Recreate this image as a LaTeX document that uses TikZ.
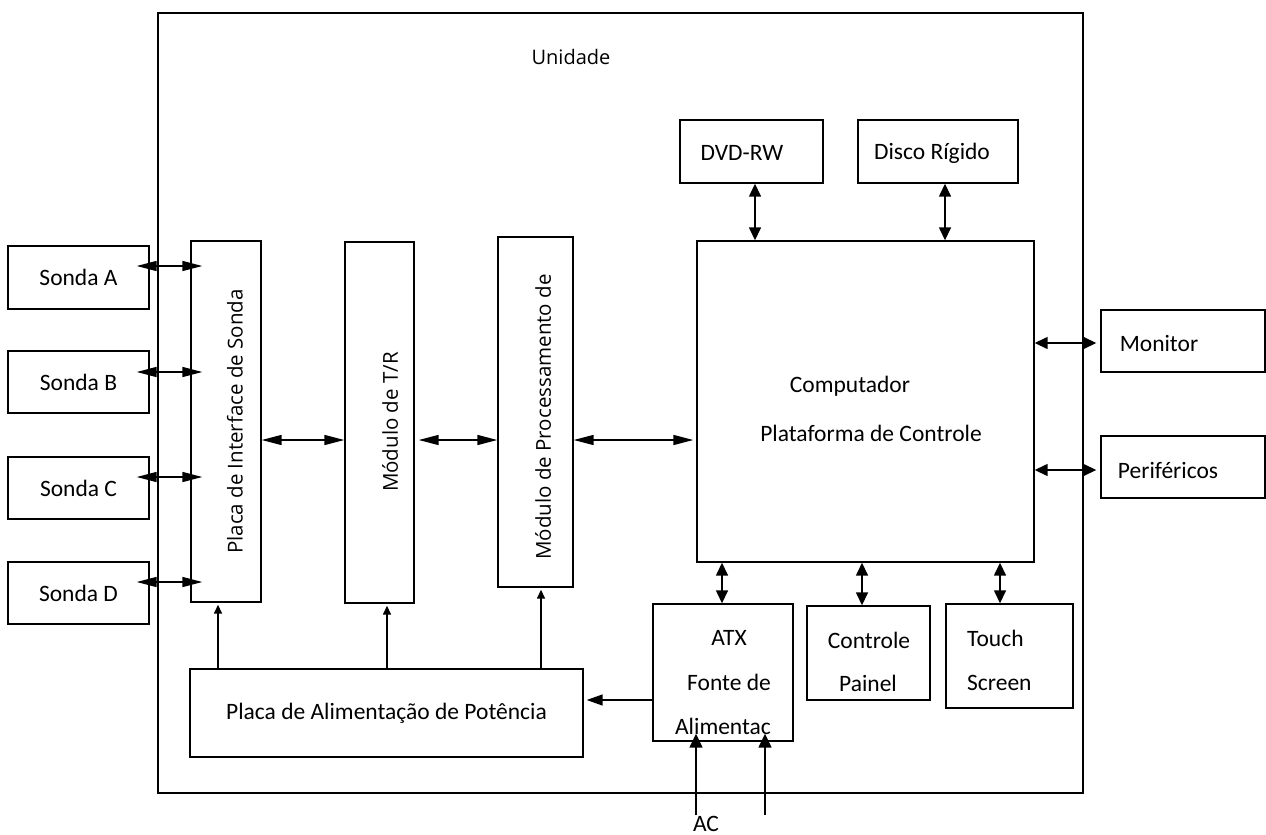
\documentclass[tikz,border=0pt]{standalone}
\usepackage{fontspec}
\setmainfont{Carlito}
\newfontfamily\osans{Open Sans}
\usetikzlibrary{arrows.meta}
\begin{document}
\begin{tikzpicture}[x=1pt,y=-1pt,
  box/.style={draw,line width=1.4pt,inner sep=0pt},
  txt/.style={inner sep=0pt,font=\fontsize{23.5}{28}\selectfont},
  rtxt/.style={inner sep=0pt,rotate=90,font=\osans\fontsize{20.5}{24}\selectfont},
  big/.style={line width=1.5pt,{Triangle[length=20pt,width=10pt]}-{Triangle[length=20pt,width=10pt]}},
  dbl/.style={line width=1.5pt,{Triangle[length=13pt,width=12pt]}-{Triangle[length=13pt,width=12pt]}},
  med/.style={line width=1.5pt,-{Triangle[length=14pt,width=13pt]}},
  lft/.style={line width=1.5pt,-{Triangle[length=16pt,width=11pt]}},
  sml/.style={line width=1.5pt,-{Triangle[length=9pt,width=8pt]}},
  font=\fontsize{23.5}{28}\selectfont]
\useasboundingbox (0,0) rectangle (1266,835);
% outer unit
\node[box,minimum width=925pt,minimum height=780pt] (unit) at (620.5,403) {};
\node[inner sep=0pt,font=\osans\fontsize{20}{24}\selectfont] (unitl) at (571,57) {Unidade};
% probes
\node[box,minimum width=141pt,minimum height=63pt] (sa) at (78.5,277.5) {Sonda A};
\node[box,minimum width=141pt,minimum height=62pt] (sb) at (78.5,382) {Sonda B};
\node[box,minimum width=141pt,minimum height=62pt] (sc) at (78.5,488) {Sonda C};
\node[box,minimum width=141pt,minimum height=62pt] (sd) at (78.5,593) {Sonda D};
% vertical modules
\node[box,minimum width=70pt,minimum height=361pt] (pis) at (226,421.5) {};
\node[rtxt] (pisl) at (235,421.5) {Placa de Interface de Sonda};
\node[box,minimum width=69pt,minimum height=361pt] (tr) at (379.5,422.5) {};
\node[rtxt] (trl) at (390,422) {Módulo de T/R};
\node[box,minimum width=75pt,minimum height=350pt] (proc) at (535.5,412) {};
\node[rtxt] (procl) at (543,417) {Módulo de Processamento de};
% computer
\node[box,minimum width=337pt,minimum height=321pt] (comp) at (865.5,401.5) {};
\node[txt] (compl1) at (850,386) {Computador};
\node[txt] (compl2) at (871,433) {Plataforma de Controle};
\node[box,minimum width=143pt,minimum height=63pt] (dvd) at (751.5,151.5) {};
\node[txt] (dvdl) at (742,153) {DVD-RW};
\node[box,minimum width=160pt,minimum height=63pt] (disco) at (938,151.5) {};
\node[txt] (discol) at (932,153) {Disco Rígido};
\node[box,minimum width=164pt,minimum height=62pt] (mon) at (1183,341) {};
\node[txt] (monl) at (1159,343) {Monitor};
\node[box,minimum width=164pt,minimum height=62pt] (per) at (1183,467) {};
\node[txt] (perl) at (1168,470) {Periféricos};
% bottom boxes
\node[box,minimum width=140pt,minimum height=137pt] (atx) at (723,672.5) {};
\node[txt] (atxl1) at (729,638) {ATX};
\node[txt] (atxl2) at (729,682) {Fonte de};
\node[txt] (atxl3) at (723,726) {Alimentac};
\node[box,minimum width=123pt,minimum height=94pt] (ctl) at (868.5,653) {};
\node[txt] (ctll1) at (869,640) {Controle};
\node[txt] (ctll2) at (868,683) {Painel};
\node[box,minimum width=127pt,minimum height=104pt] (touch) at (1009.5,656) {};
\node[txt,anchor=west] (touchl1) at (967,638) {Touch};
\node[txt,anchor=west] (touchl2) at (967,683) {Screen};
\node[box,minimum width=393pt,minimum height=88pt] (pap) at (386.5,713) {Placa de Alimentação de Potência};
\node[txt,anchor=base] (acl) at (706,831) {AC};
% probe arrows
\draw[big] ([xshift=-13pt]sa.east |- 0,266) -- ([xshift=12pt]pis.west |- 0,266);
\draw[big] ([xshift=-13pt]sb.east |- 0,372) -- ([xshift=12pt]pis.west |- 0,372);
\draw[big] ([xshift=-13pt]sc.east |- 0,477) -- ([xshift=12pt]pis.west |- 0,477);
\draw[big] ([xshift=-13pt]sd.east |- 0,582) -- ([xshift=12pt]pis.west |- 0,582);
% chain
\draw[big] (pis.east |- 0,440) -- (tr.west |- 0,440);
\draw[big] ([xshift=4pt]tr.east |- 0,440) -- (proc.west |- 0,440);
\draw[big] (proc.east |- 0,440) -- ([xshift=-3pt]comp.west |- 0,440);
% computer peripherals
\draw[dbl] (dvd.south -| 755,0) -- (comp.north -| 755,0);
\draw[dbl] (disco.south -| 945,0) -- (comp.north -| 945,0);
\draw[dbl] (comp.east |- 0,343) -- ([xshift=-4pt]mon.west |- 0,343);
\draw[dbl] (comp.east |- 0,470) -- ([xshift=-4pt]per.west |- 0,470);
\draw[dbl] (comp.south -| 722,0) -- (atx.north -| 722,0);
\draw[dbl] (comp.south -| 862,0) -- (ctl.north -| 862,0);
\draw[dbl] (comp.south -| 1000,0) -- (touch.north -| 1000,0);
% power
\draw[sml] (pap.north -| 218,0) -- ([yshift=-2pt]pis.south -| 218,0);
\draw[sml] (pap.north -| 387,0) -- ([yshift=-2pt]tr.south -| 387,0);
\draw[sml] (pap.north -| 541,0) -- ([yshift=-2pt]proc.south -| 541,0);
\draw[lft] (atx.west |- 0,700) -- ([xshift=3pt]pap.east |- 0,700);
\coordinate (ac1) at (696,815);
\coordinate (ac2) at (765,815);
\draw[med] (ac1) -- ([yshift=8pt]atx.south -| ac1);
\draw[med] (ac2) -- ([yshift=8pt]atx.south -| ac2);
\end{tikzpicture}
\end{document}
